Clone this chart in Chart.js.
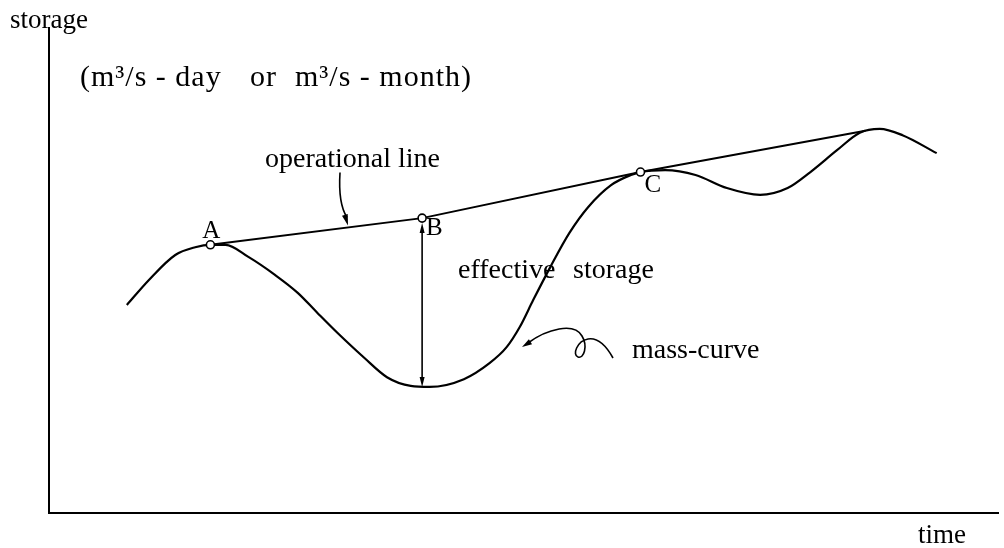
<!DOCTYPE html>
<html>
<head>
<meta charset="utf-8">
<script src="https://cdn.jsdelivr.net/npm/chart.js@4.4.1/dist/chart.umd.min.js"></script>
<style>
  html, body { margin: 0; padding: 0; background: #fff; }
  #wrap { width: 1004px; height: 548px; }
</style>
</head>
<body>
<div id="wrap"><canvas id="massChart" width="1004" height="548"></canvas></div>
<script>
// --- data (time / storage in arbitrary units, 0..100) ---

// mass curve
const massTime = [8.2, 10.5, 13.3, 15.4, 17.0, 18.6, 21.0, 23.8, 26.2, 28.3, 30.4, 33.2, 35.6, 38.1, 40.1,
    43.7, 46.4, 48.2, 49.6, 51.0, 52.8, 54.8, 56.8, 59.2, 61.3, 62.3, 64.9, 68.1, 71.4, 74.9, 77.8,
    80.2, 83.0, 85.4, 87.5, 89.9, 93.5];
const massStorage = [42.9, 48.0, 53.2, 54.8, 55.3, 55.3, 52.8, 49.1, 45.4, 41.2, 37.1, 32.0, 28.0, 26.2, 26.0,
    27.6, 30.9, 34.2, 38.4, 43.9, 50.7, 57.7, 63.1, 67.6, 69.7, 70.3, 70.7, 69.7, 67.0, 65.6, 67.0,
    70.3, 74.8, 78.4, 79.2, 77.9, 74.2];

// operational line A - B - C - touching point
const opTime = [17.0, 39.3, 62.3, 86.0];
const opStorage = [55.3, 60.8, 70.3, 78.8];
const opLabels = ['A', 'B', 'C', ''];

// lowest point of the mass curve under B (effective storage)
const effTime = 39.3;
const effBottom = 26.0;

const SERIF = '"Liberation Serif", "DejaVu Serif", serif';

function toPoints(xs, ys) {
    return xs.map((x, i) => ({ x: x, y: ys[i] }));
}

function arrowHead(ctx, x, y, angle, len, wid) {
    ctx.save();
    ctx.translate(x, y);
    ctx.rotate(angle);
    ctx.beginPath();
    ctx.moveTo(0, 0);
    ctx.lineTo(-len, -wid);
    ctx.lineTo(-len, wid);
    ctx.closePath();
    ctx.fill();
    ctx.restore();
}

// texts, callouts and the double arrow
const notesPlugin = {
    id: 'notes',
    afterDatasetsDraw(chart) {
        const ctx = chart.ctx;
        const xs = chart.scales.x;
        const ys = chart.scales.y;
        const px = v => xs.getPixelForValue(v);
        const py = v => ys.getPixelForValue(v);

        ctx.save();
        ctx.fillStyle = '#000';
        ctx.strokeStyle = '#000';
        ctx.textBaseline = 'alphabetic';

        // point labels
        ctx.font = '25px ' + SERIF;
        ctx.textAlign = 'center';
        ctx.fillText(opLabels[0], px(opTime[0]) + 1, py(opStorage[0]) - 7);
        ctx.textAlign = 'left';
        ctx.fillText(opLabels[1], px(opTime[1]) + 4, py(opStorage[1]) + 17);
        ctx.fillText(opLabels[2], px(opTime[2]) + 4, py(opStorage[2]) + 20);

        // effective storage double arrow
        const ax = px(effTime);
        const yTop = py(opStorage[1]) + 5;
        const yBot = py(effBottom);
        ctx.lineWidth = 1.6;
        ctx.beginPath();
        ctx.moveTo(ax, yTop + 8);
        ctx.lineTo(ax, yBot - 8);
        ctx.stroke();
        arrowHead(ctx, ax, yTop, -Math.PI / 2, 10, 2.5);
        arrowHead(ctx, ax, yBot, Math.PI / 2, 10, 2.5);

        // operational line callout
        const f = 0.65;
        const tipX = px(opTime[0] + (opTime[1] - opTime[0]) * f);
        const tipY = py(opStorage[0] + (opStorage[1] - opStorage[0]) * f) - 2;
        ctx.lineWidth = 1.6;
        ctx.beginPath();
        ctx.moveTo(tipX - 8, tipY - 53);
        ctx.quadraticCurveTo(tipX - 10, tipY - 22, tipX - 1, tipY - 8);
        ctx.stroke();
        arrowHead(ctx, tipX, tipY, Math.atan2(10, 3), 11, 3);

        // mass-curve callout
        const mx = 522, my = 347;
        ctx.beginPath();
        ctx.moveTo(mx + 6, my - 4);
        ctx.bezierCurveTo(mx + 25, my - 18, mx + 52, my - 25, mx + 60, my - 11);
        ctx.bezierCurveTo(mx + 66, my - 1, mx + 62, my + 12, mx + 56, my + 10);
        ctx.bezierCurveTo(mx + 50, my + 8, mx + 55, my - 6, mx + 66, my - 8);
        ctx.bezierCurveTo(mx + 78, my - 10, mx + 86, my + 2, mx + 91, my + 11);
        ctx.stroke();
        arrowHead(ctx, mx, my, Math.atan2(5, -8), 10, 3);

        // texts
        ctx.textAlign = 'left';
        ctx.font = '27px ' + SERIF;
        ctx.fillText('storage', 10, 28);
        ctx.fillText('time', 918, 543);
        ctx.font = '30px ' + SERIF;
        ctx.letterSpacing = '1px';
        ctx.fillText('(m\u00b3/s - day', 80, 86);
        ctx.fillText('or', 250, 86);
        ctx.fillText('m\u00b3/s - month)', 295, 86);
        ctx.letterSpacing = '0px';
        ctx.font = '28px ' + SERIF;
        ctx.textAlign = 'right';
        ctx.fillText('operational line', 440, 167);
        ctx.textAlign = 'left';
        ctx.fillText('effective', 458, 278);
        ctx.fillText('storage', 573, 278);
        ctx.fillText('mass-curve', 632, 358);

        ctx.restore();
    }
};

function drawChart() {
    const ctx = document.getElementById('massChart');

    new Chart(ctx, {
        type: 'scatter',
        data: {
            datasets: [
                {
                    label: 'operational line',
                    data: toPoints(opTime, opStorage),
                    showLine: true,
                    borderColor: '#000',
                    borderWidth: 2,
                    tension: 0,
                    pointRadius: [4, 4, 4, 0],
                    pointBackgroundColor: '#fff',
                    pointBorderColor: '#000',
                    pointBorderWidth: 1.6
                },
                {
                    label: 'mass-curve',
                    data: toPoints(massTime, massStorage),
                    showLine: true,
                    borderColor: '#000',
                    borderWidth: 2.2,
                    cubicInterpolationMode: 'monotone',
                    pointRadius: 0
                }
            ]
        },
        options: {
            responsive: false,
            animation: false,
            layout: { padding: { left: 49, top: 28, right: -6, bottom: 35 } },
            plugins: {
                legend: { display: false },
                tooltip: { enabled: false }
            },
            scales: {
                x: {
                    type: 'linear',
                    min: 0,
                    max: 100,
                    ticks: { display: false },
                    grid: { display: false, drawTicks: false },
                    border: { color: '#000', width: 2 }
                },
                y: {
                    type: 'linear',
                    min: 0,
                    max: 100,
                    ticks: { display: false },
                    grid: { display: false, drawTicks: false },
                    border: { color: '#000', width: 2 }
                }
            }
        },
        plugins: [notesPlugin]
    });
}

document.addEventListener('DOMContentLoaded', () => {
    drawChart();
});
</script>
</body>
</html>
